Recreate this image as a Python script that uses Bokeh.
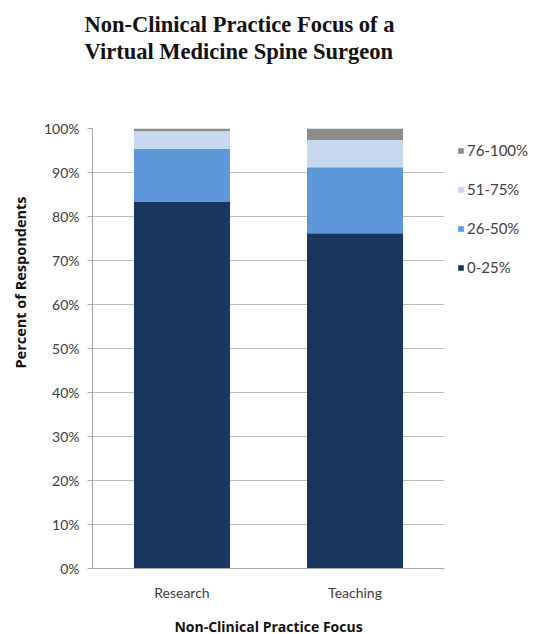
from bokeh.plotting import figure
from bokeh.models import FactorRange, Legend, LegendItem, Title, FixedTicker, CustomJSTickFormatter
from bokeh.embed import file_html
from bokeh.resources import INLINE

categories = ["Research", "Teaching"]
bins = ["0-25%", "26-50%", "51-75%", "76-100%"]
v_0_25 = [83.4, 76.2]
v_26_50 = [12.0, 15.0]
v_51_75 = [4.0, 6.2]
v_76_100 = [0.6, 2.6]
colors = ["#17375e", "#5b97d9", "#c6d9f0", "#8c8c8c"]
title_lines = ["Non-Clinical Practice Focus of a", "Virtual Medicine Spine Surgeon"]
y_label = "Percent of Respondents"
x_label = "Non-Clinical Practice Focus"

data = {"cat": categories, "0-25%": v_0_25, "26-50%": v_26_50,
        "51-75%": v_51_75, "76-100%": v_76_100}

p = figure(width=545, height=634, frame_width=352, frame_height=440,
           x_range=FactorRange(*categories, range_padding=0.017),
           y_range=(0, 100), output_backend="svg", toolbar_location=None,
           min_border_left=92, min_border_right=101, min_border_top=128, min_border_bottom=66)

renderers = p.vbar_stack(bins, x="cat", width=0.555, source=data, color=colors, line_color=None)

p.outline_line_color = None
p.xgrid.grid_line_color = None
p.ygrid.grid_line_color = "#bdbdbd"
p.ygrid.grid_line_width = 1.2
p.yaxis.ticker = FixedTicker(ticks=list(range(0, 101, 10)))
p.yaxis.formatter = CustomJSTickFormatter(code="return tick.toFixed(0) + '%';")

for ax in (p.xaxis, p.yaxis):
    ax.axis_line_color = "#a6a6a6"
    ax.major_tick_line_color = "#a6a6a6"
    ax.minor_tick_line_color = None
    ax.major_label_text_font = "Lato"
    ax.major_label_text_font_size = "14px"
    ax.major_label_text_color = "#404040"
    ax.axis_label_text_font = "Open Sans"
    ax.axis_label_text_font_style = "bold"
    ax.axis_label_text_font_size = "14px"
    ax.axis_label_text_color = "#111111"

p.yaxis.major_tick_in = 0
p.yaxis.major_tick_out = 5
p.yaxis.major_label_standoff = 8
p.xaxis.major_tick_line_color = None
p.xaxis.major_label_standoff = 9
p.xaxis.axis_label = x_label
p.xaxis.axis_label_standoff = 13

p.add_layout(Title(text=y_label, align="left", offset=200, standoff=18, vertical_align="top",
                   text_font="Open Sans", text_font_style="bold",
                   text_font_size="14.5px", text_color="#111111"), "left")

items = [LegendItem(label=b, renderers=[r]) for b, r in zip(bins, renderers)][::-1]
legend = Legend(items=items, location="top_left", spacing=21, glyph_width=7, glyph_height=7,
                label_text_font="Lato", label_text_font_size="15px", label_text_color="#404040",
                border_line_color=None, background_fill_alpha=0, padding=0, margin=13,
                label_standoff=3, label_height=12)
p.add_layout(legend, "right")

p.add_layout(Title(text=" ", standoff=52, text_font_size="10px"), "above")
p.add_layout(Title(text=title_lines[1], align="left", offset=-8, standoff=0,
                   text_font="Liberation Serif", text_font_style="bold",
                   text_font_size="22.5px", text_color="#111111"), "above")
p.add_layout(Title(text=title_lines[0], align="left", offset=-8, standoff=0,
                   text_font="Liberation Serif", text_font_style="bold",
                   text_font_size="22.5px", text_color="#111111"), "above")

open("out.html", "w").write(file_html(p, INLINE))
